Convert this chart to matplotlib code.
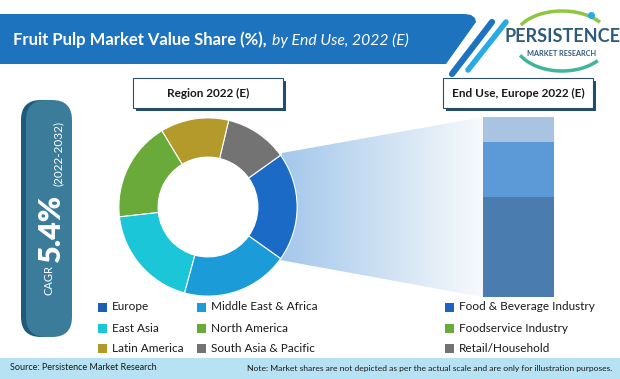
import numpy as np
import matplotlib.pyplot as plt
from matplotlib.patches import Polygon, FancyBboxPatch, Rectangle, Arc
from matplotlib import font_manager

plt.rcParams['font.family'] = ['Lato', 'DejaVu Sans']

# region shares (pie order, counter-clockwise from Europe)
regions = ['Europe', 'South Asia & Pacific', 'Latin America',
           'North America', 'East Asia', 'Middle East & Africa']
region_share = [19.7, 11.4, 12.4, 18.1, 19.0, 19.4]
region_colors = ['#1B6BC6', '#737373', '#B39A2A', '#6AAA3A', '#1CC6D9', '#1B9BD8']

# end use split for Europe (bottom to top)
end_uses = ['Food & Beverage Industry', 'Foodservice Industry', 'Retail/Household']
end_use_share = [55.6, 30.6, 13.8]
bar_colors = ['#4A7CB0', '#5B9AD6', '#A9C3E3']

# legend entries
left_legend = [['Europe', 'East Asia', 'Latin America'],
               ['Middle East & Africa', 'North America', 'South Asia & Pacific']]
left_legend_colors = [['#1A5FB4', '#1CC6D9', '#B09A2B'],
                      ['#1B9BD8', '#6AAA3A', '#737373']]
right_legend_colors = ['#1A63BE', '#6AAA3A', '#737373']

names = {f.name for f in font_manager.fontManager.ttflist}
narrow = ['Liberation Sans Narrow'] if 'Liberation Sans Narrow' in names else ['Lato']

W, H = 620, 379
def Y(y):
    return H - y

fig = plt.figure(figsize=(6.2, 3.79), dpi=100)
bg = fig.add_axes([0, 0, 1, 1])
bg.set_xlim(0, W)
bg.set_ylim(0, H)
bg.axis('off')

# header band
band = [(0, 14), (465, 14), (471, 15), (475, 18), (476, 22), (446, 64), (0, 64)]
bg.add_patch(Polygon([(x, Y(y)) for x, y in band], closed=True, fc='#1E73BE', ec='none'))
bg.plot([492, 452], [Y(22), Y(74)], color='#1E73BE', lw=4.5, solid_capstyle='round')
bg.plot([506, 468], [Y(22), Y(70)], color='#2AAAE2', lw=4, solid_capstyle='round')
t = bg.text(13, Y(40), 'Fruit Pulp Market Value Share (%),', color='white',
            fontsize=12, fontweight='bold', va='center', ha='left')
fig.canvas.draw()
bb = t.get_window_extent()
bg.text(bb.x1 + 5, Y(40), 'by End Use, 2022 (E)', color='white', fontsize=11.3,
        fontstyle='italic', va='center', ha='left')

# logo
bg.add_patch(Arc((562, Y(40)), 96, 58, theta1=25, theta2=160, color='#8DC63F', lw=2.5))
bg.add_patch(Arc((562, Y(40)), 96, 62, theta1=200, theta2=330, color='#3FB59A', lw=2.5))
bg.plot([591], [Y(15)], 'o', color='#2AAAE2', ms=4)
bg.text(562, Y(37), 'PERSISTENCE', color='#2D5B7C', fontsize=13, fontweight='bold',
        family=narrow + ['DejaVu Sans'], ha='center', va='center')
bg.text(562, Y(53), 'MARKET RESEARCH', color='#2D5B7C', fontsize=5.2, fontweight='bold',
        ha='center', va='center')

# CAGR pill
bg.add_patch(FancyBboxPatch((21, Y(337)), 44, 237, boxstyle='round,pad=0,rounding_size=20',
                            fc='#1E5A7A', ec='none'))
bg.add_patch(FancyBboxPatch((26, Y(337)), 46, 237, boxstyle='round,pad=0,rounding_size=20',
                            fc='#3B7C9B', ec='none'))
bg.text(49, Y(280), 'CAGR', color='white', fontsize=8, rotation=90, ha='center', va='center')
bg.text(51, Y(228), '5.4%', color='white', fontsize=22, fontweight='heavy', rotation=90,
        ha='center', va='center')
bg.text(58, Y(153), '(2022-2032)', color='white', fontsize=8.5, rotation=90,
        ha='center', va='center')

# title boxes
for x0, x1, label in [(133, 283, 'Region 2022 (E)'), (443, 593, 'End Use, Europe 2022 (E)')]:
    bg.add_patch(Rectangle((x0 + 3, Y(111)), x1 - x0, 30, fc='#1F4E6E', ec='none'))
    bg.add_patch(Rectangle((x0, Y(108)), x1 - x0, 30, fc='white', ec='#2B4F6B', lw=0.8))
    bg.text((x0 + x1) / 2, Y(93), label, fontsize=8.5, fontweight='bold', color='#1A1A1A',
            ha='center', va='center')

# funnel with gradient
funnel = Polygon([(282, Y(153)), (483, Y(117)), (483, Y(297)), (280, Y(260))],
                 closed=True, fc='none', ec='none')
bg.add_patch(funnel)
grad = np.linspace(0, 1, 256)[None, :, None]
c0 = np.array([0.64, 0.78, 0.92])
c1 = np.array([0.97, 0.98, 0.99])
img = c0 * (1 - grad) + c1 * grad
im = bg.imshow(img, extent=(280, 483, Y(297), Y(117)), aspect='auto', zorder=1)
im.set_clip_path(funnel)
bg.set_xlim(0, W)
bg.set_ylim(0, H)

# donut
ax_pie = fig.add_axes([118 / W, Y(297) / H, 180 / W, 180 / H])
ax_pie.pie(region_share, colors=region_colors, startangle=-35.4, counterclock=True,
           wedgeprops=dict(width=0.44, edgecolor='white', linewidth=0.8))
ax_pie.set_xlim(-1.01, 1.01)
ax_pie.set_ylim(-1.01, 1.01)
ax_pie.axis('off')

# stacked bar
ax_bar = fig.add_axes([483 / W, Y(297) / H, 71 / W, 180 / H])
bottom = 0
for val, col in zip(end_use_share, bar_colors):
    ax_bar.bar(0, val, width=1, bottom=bottom, color=col)
    bottom += val
ax_bar.set_xlim(-0.5, 0.5)
ax_bar.set_ylim(0, 100)
ax_bar.axis('off')

# legends
rows = [307, 328, 348]
for col_x, labels, cols in zip([98, 197], left_legend, left_legend_colors):
    for yy, lab, c in zip(rows, labels, cols):
        bg.add_patch(Rectangle((col_x, Y(yy + 4.5)), 9, 9, fc=c, ec='none'))
        bg.text(col_x + 14, Y(yy), lab, fontsize=8.5, color='#1A1A1A', va='center', ha='left')
for yy, lab, c in zip(rows, end_uses, right_legend_colors):
    bg.add_patch(Rectangle((445, Y(yy + 4.5)), 9, 9, fc=c, ec='none'))
    bg.text(459, Y(yy), lab, fontsize=8.5, color='#1A1A1A', va='center', ha='left')

# footer
bg.add_patch(Rectangle((0, 0), W, Y(358), fc='#B7E2F3', ec='none'))
bg.text(10, Y(368), 'Source: Persistence Market Research', fontsize=6.5, color='#1A1A1A',
        va='center', ha='left')
bg.text(612, Y(368), 'Note: Market shares are not depicted as per the actual scale and are only for illustration purposes.',
        fontsize=6.1, family=narrow + ['DejaVu Sans'], color='#1A1A1A', va='center', ha='right')

fig.savefig('out.png', dpi=100)
